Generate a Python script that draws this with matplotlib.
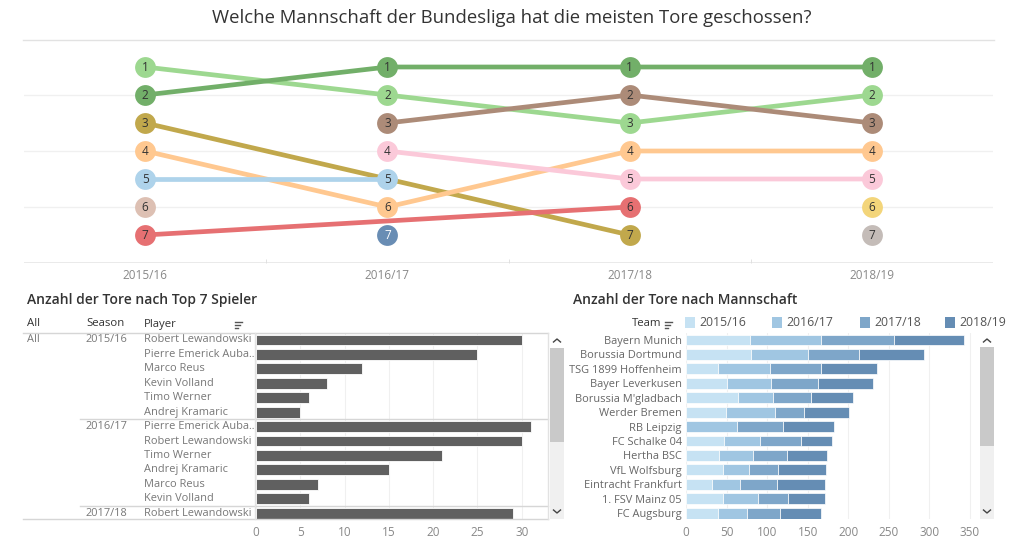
import matplotlib
matplotlib.use("Agg")
import matplotlib.pyplot as plt
import matplotlib.transforms as mtransforms
from matplotlib.patches import Rectangle
from matplotlib.lines import Line2D
from matplotlib.colors import to_rgb

plt.rcParams['font.family'] = ['Open Sans', 'DejaVu Sans']

# ~~~~~~~~ data ~~~~~~~~
seasons = ['2015/16', '2016/17', '2017/18', '2018/19']

# rank per season (None = not in top 7)
rank_teams = ['Borussia Dortmund', 'Bayern Munich', "Borussia M'gladbach", 'Bayer Leverkusen',
              'Werder Bremen', 'VfB Stuttgart', 'FC Schalke 04', 'TSG 1899 Hoffenheim',
              'RB Leipzig', '1. FC Koeln', 'VfL Wolfsburg', 'Eintracht Frankfurt']
rank_values = [[1, 2, 3, 2],
               [2, 1, 1, 1],
               [3, None, 7, None],
               [4, 6, 4, 4],
               [5, 5, None, None],
               [6, None, None, None],
               [7, None, 6, None],
               [None, 3, 2, 3],
               [None, 4, 5, 5],
               [None, 7, None, None],
               [None, None, None, 6],
               [None, None, None, 7]]
rank_colors = ['#8CD17D', '#59A14F', '#B6992D', '#FFBE7D', '#A0CBE8', '#D7B5A6',
               '#E15759', '#9D7660', '#FABFD2', '#4E79A7', '#F1CE63', '#BAB0AC']

player_season = ['2015/16'] * 6 + ['2016/17'] * 6 + ['2017/18']
player_names = ['Robert Lewandowski', 'Pierre Emerick Auba..', 'Marco Reus', 'Kevin Volland',
                'Timo Werner', 'Andrej Kramaric',
                'Pierre Emerick Auba..', 'Robert Lewandowski', 'Timo Werner', 'Andrej Kramaric',
                'Marco Reus', 'Kevin Volland',
                'Robert Lewandowski']
player_goals = [30, 25, 12, 8, 6, 5, 31, 30, 21, 15, 7, 6, 29]

teams = ['Bayern Munich', 'Borussia Dortmund', 'TSG 1899 Hoffenheim', 'Bayer Leverkusen',
         "Borussia M'gladbach", 'Werder Bremen', 'RB Leipzig', 'FC Schalke 04', 'Hertha BSC',
         'VfL Wolfsburg', 'Eintracht Frankfurt', '1. FSV Mainz 05', 'FC Augsburg']
goals_1516 = [79, 80, 39, 51, 64, 49, 0, 47, 41, 46, 32, 46, 40]
goals_1617 = [88, 71, 64, 54, 43, 61, 63, 44, 42, 32, 35, 43, 35]
goals_1718 = [90, 62, 63, 58, 47, 35, 57, 51, 42, 36, 45, 37, 41]
goals_1819 = [86, 80, 70, 67, 52, 56, 62, 38, 49, 59, 59, 45, 50]
season_colors = ['#C6E2F3', '#A0C6E2', '#7EA6C9', '#658DB4']

W, H = 1024, 550
fig = plt.figure(figsize=(W / 100, H / 100), dpi=100)

ROW0, ROWH = 340, 14.43   # pixel centre of first table row, row pitch


def add_ax(x0, y0, x1, y1):
    return fig.add_axes([x0 / W, 1 - y1 / H, (x1 - x0) / W, (y1 - y0) / H])


def ftext(x, y, s, **kw):
    return fig.text(x / W, 1 - y / H, s, **kw)


def fline(xs, ys, **kw):
    fig.add_artist(Line2D([x / W for x in xs], [1 - y / H for y in ys], **kw))


def frect(x0, y0, x1, y1, **kw):
    fig.add_artist(Rectangle((x0 / W, 1 - y1 / H), (x1 - x0) / W, (y1 - y0) / H,
                             transform=fig.transFigure, **kw))


def soft(c, a=0.85):
    r, g, b = to_rgb(c)
    return (r * a + 1 - a, g * a + 1 - a, b * a + 1 - a)


def sort_icon(x, y):
    for i, ln in enumerate([7, 5, 3]):
        fline([x, x + ln], [y - 3 + 3 * i, y - 3 + 3 * i], color='#555555', lw=1)


def scrollbar(x0, x1, y0, y1, t0, t1):
    frect(x0, y0, x1, y1, color='#f0f0f0', lw=0)
    frect(x0, y0, x1, t0, color='white', lw=0)
    frect(x0, t0, x1, t1, color='#c9c9c9', lw=0)
    cx = (x0 + x1) / 2
    fline([cx - 3.5, cx, cx + 3.5], [y0 + 9, y0 + 6, y0 + 9], color='#444444', lw=1)
    fline([cx - 3.5, cx, cx + 3.5], [y1 - 9, y1 - 6, y1 - 9], color='#444444', lw=1)


def row_limits():
    return (519 - ROW0) / ROWH, (333 - ROW0) / ROWH


# ~~~~~~~~ title ~~~~~~~~
ftext(512, 18, 'Welche Mannschaft der Bundesliga hat die meisten Tore geschossen?',
      ha='center', va='center', fontsize=13.3, color='#333333')
fline([23, 994], [39.5, 39.5], color='#e2e2e2', lw=1)

# ~~~~~~~~ bump chart ~~~~~~~~
ax = add_ax(24, 39, 993, 263)
ax.set_xlim(-0.5, 3.5)
ax.set_ylim(8, 0)
for y in [2, 4, 6]:
    ax.axhline(y, color='#f0f0f0', lw=1, zorder=0)
ax.axhline(8, color='#e6e6e6', lw=1.2, zorder=0)
for s in ax.spines.values():
    s.set_visible(False)
ax.set_yticks([])
ax.set_xticks(range(len(seasons)))
ax.set_xticklabels(seasons, fontsize=8.5, color='#888888')
ax.tick_params(axis='x', length=0, pad=4)
ax.set_xticks([0.5, 1.5, 2.5], minor=True)
ax.tick_params(axis='x', which='minor', direction='in', length=3, color='#dddddd')

for name, ranks, col in zip(rank_teams, rank_values, rank_colors):
    xs = [i for i, r in enumerate(ranks) if r is not None]
    ys = [r for r in ranks if r is not None]
    if len(xs) > 1:
        ax.plot(xs, ys, color=soft(col), lw=3.4, solid_capstyle='butt', zorder=2)
    ax.scatter(xs, ys, s=225, color=soft(col), lw=0, zorder=3)
    tc = 'white' if col == '#4E79A7' else '#333333'
    for x, y in zip(xs, ys):
        ax.text(x, y, str(y), ha='center', va='center', fontsize=8.5, color=tc, zorder=4)

# ~~~~~~~~ players ~~~~~~~~
ftext(27, 300, 'Anzahl der Tore nach Top 7 Spieler', ha='left', va='center',
      fontsize=10, color='#333333', fontweight='semibold')
ftext(27, 324, 'All', ha='left', va='center', fontsize=8.2, color='#333333')
ftext(86, 324, 'Season', ha='left', va='center', fontsize=8.2, color='#333333')
ftext(144, 324, 'Player', ha='left', va='center', fontsize=8.2, color='#333333')
sort_icon(235, 325)

axp = add_ax(256, 333, 548, 519)
rows = range(len(player_goals))
axp.barh(rows, player_goals, height=0.76, color='#606060', edgecolor='#ffffff', lw=0.6, zorder=2)
axp.set_xlim(0, 32.96)
axp.set_ylim(*row_limits())
axp.set_yticks([])
axp.set_xticks(range(0, 31, 5))
axp.tick_params(axis='x', length=0, pad=5, labelsize=8.5, labelcolor='#888888')
axp.grid(axis='x', color='#f0f0f0', lw=0.8, zorder=0)
for s in axp.spines.values():
    s.set_visible(False)

tr = mtransforms.blended_transform_factory(fig.transFigure, axp.transData)
ftr = lambda x: x / W
axp.text(ftr(27), 0, 'All', transform=tr, ha='left', va='center', fontsize=7.9, color='#777777')
prev = None
for i, (season, name) in enumerate(zip(player_season, player_names)):
    if season != prev:
        axp.text(ftr(86), i, season, transform=tr, ha='left', va='center', fontsize=7.9,
                 color='#777777')
        if prev is not None:
            yb = ROW0 + (i - 0.5) * ROWH
            fline([80, 548], [yb, yb], color='#d6d6d6', lw=1)
        prev = season
    axp.text(ftr(144), i, name, transform=tr, ha='left', va='center', fontsize=7.9,
             color='#777777')

fline([23, 548], [332.5, 332.5], color='#d6d6d6', lw=1)
fline([23, 548], [519, 519], color='#d6d6d6', lw=1)
fline([548, 548], [333, 519], color='#e2e2e2', lw=1)
fline([255, 255], [333, 519], color='#e2e2e2', lw=1)
scrollbar(550, 564, 333, 519, 348, 442)

# ~~~~~~~~ teams ~~~~~~~~
ftext(573, 300, 'Anzahl der Tore nach Mannschaft', ha='left', va='center',
      fontsize=10, color='#333333', fontweight='semibold')
ftext(661, 324, 'Team', ha='right', va='center', fontsize=8.2, color='#333333')
sort_icon(665, 325)
leg_x = [685, 772, 860, 945]
for lx, lab, col in zip(leg_x, seasons, season_colors):
    frect(lx, 317, lx + 10, 328, color=col, lw=0)
    ftext(lx + 14, 322.5, lab, ha='left', va='center', fontsize=8.8, color='#555555')

axt = add_ax(686, 333, 978, 519)
trows = range(len(teams))
left = [0] * len(teams)
for vals, col in zip([goals_1516, goals_1617, goals_1718, goals_1819], season_colors):
    axt.barh(trows, vals, left=left, height=0.76, color=col, edgecolor='#ffffff', lw=0.5, zorder=2)
    left = [a + b for a, b in zip(left, vals)]
axt.set_xlim(0, 360)
axt.set_ylim(*row_limits())
axt.set_yticks(list(trows))
axt.set_yticklabels(teams, fontsize=7.9, color='#666666')
axt.set_xticks(range(0, 351, 50))
axt.tick_params(axis='x', length=0, pad=5, labelsize=8.5, labelcolor='#888888')
axt.tick_params(axis='y', length=0, pad=3)
axt.grid(axis='x', color='#f0f0f0', lw=0.8, zorder=0)
for s in axt.spines.values():
    s.set_visible(False)
scrollbar(980, 994, 333, 519, 347, 446)

fig.savefig('out.png', dpi=100)
